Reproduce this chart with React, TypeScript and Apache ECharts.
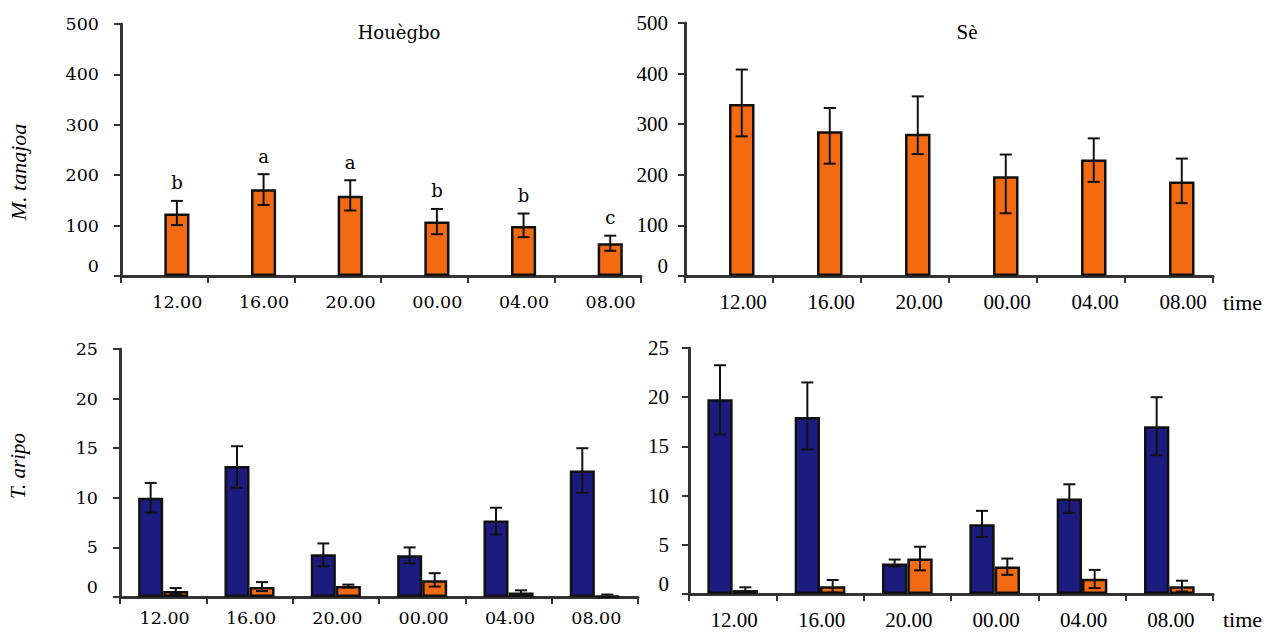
import React, { useEffect, useRef } from "react";
import * as echarts from "echarts";

// categories
const times = ["12.00", "16.00", "20.00", "00.00", "04.00", "08.00"];

// Houègbo – M. tanajoa
const hoMtMean = [124, 172, 159, 108, 99, 65];
const hoMtLow = [101, 141, 130, 83, 77, 50];
const hoMtHigh = [149, 202, 190, 133, 124, 80];
const hoMtLetters = ["b", "a", "a", "b", "b", "c"];

// Sè – M. tanajoa
const seMtMean = [340, 286, 281, 197, 230, 187];
const seMtLow = [276, 222, 241, 124, 186, 144];
const seMtHigh = [408, 332, 355, 240, 272, 232];

// Houègbo – T. aripo
const hoTaBlue = [10.0, 13.2, 4.3, 4.2, 7.7, 12.75];
const hoTaBlueLow = [8.5, 11.0, 3.1, 3.4, 6.3, 10.5];
const hoTaBlueHigh = [11.5, 15.2, 5.4, 5.0, 9.0, 15.0];
const hoTaOrange = [0.6, 1.0, 1.1, 1.7, 0.45, 0.1];
const hoTaOrangeLow = [0.3, 0.6, 0.95, 1.05, 0.25, 0.0];
const hoTaOrangeHigh = [0.9, 1.5, 1.25, 2.4, 0.67, 0.25];

// Sè – T. aripo
const seTaBlue = [19.8, 18.0, 3.1, 7.1, 9.7, 17.05];
const seTaBlueLow = [16.2, 14.7, 2.8, 5.8, 8.25, 14.1];
const seTaBlueHigh = [23.25, 21.5, 3.5, 8.45, 11.15, 20.0];
const seTaOrange = [0.4, 0.8, 3.6, 2.8, 1.55, 0.8];
const seTaOrangeLow = [0.15, 0.15, 2.4, 1.95, 0.6, 0.25];
const seTaOrangeHigh = [0.68, 1.42, 4.8, 3.6, 2.45, 1.35];

// tick values
const mtTicks = { min: 0, max: 500, interval: 100 };
const taTicks = { min: 0, max: 25, interval: 5 };

const ORANGE = "#F26A12";
const BLUE = "#1C1B80";
const INK = "#000";
const AXIS = "#333";
const FONT_L = "DejaVu Serif";
const FONT_R = "Liberation Serif";

const BAR_FRAC = 0.29;

function errorSeries(
  idx: number,
  lows: number[],
  highs: number[],
  slot: number,
  letters?: string[],
  letterFont?: string
) {
  return {
    type: "custom",
    xAxisIndex: idx,
    yAxisIndex: idx,
    z: 5,
    silent: true,
    encode: { x: 0, y: [1, 2] },
    data: lows.map((lo, i) => [i, lo, highs[i]]),
    renderItem: (params: any, api: any) => {
      const i = api.value(0);
      const lo = api.coord([i, api.value(1)]);
      const hi = api.coord([i, api.value(2)]);
      const band = api.size([1, 0])[0];
      const x = lo[0] + (slot * band * BAR_FRAC) / 2;
      const cap = 6;
      const st = { stroke: "#111", lineWidth: 2 };
      const children: any[] = [
        { type: "line", shape: { x1: x, y1: lo[1], x2: x, y2: hi[1] }, style: st },
        { type: "line", shape: { x1: x - cap, y1: hi[1], x2: x + cap, y2: hi[1] }, style: st },
        { type: "line", shape: { x1: x - cap, y1: lo[1], x2: x + cap, y2: lo[1] }, style: st },
      ];
      if (letters) {
        children.push({
          type: "text",
          style: {
            text: letters[i],
            x: x,
            y: hi[1] - 18,
            align: "center",
            verticalAlign: "middle",
            fontFamily: letterFont,
            fontSize: 18,
            fill: INK,
          },
        });
      }
      return { type: "group", children };
    },
  };
}

function xAxisFor(idx: number, font: string, size: number, margin: number, shift: number, withName: boolean, namePad: number) {
  return {
    type: "category",
    gridIndex: idx,
    data: times,
    boundaryGap: true,
    axisLine: { show: true, lineStyle: { color: AXIS, width: 3 } },
    axisTick: { show: true, length: 7, lineStyle: { color: AXIS, width: 2 } },
    axisLabel: {
      fontFamily: font,
      fontSize: size,
      color: INK,
      margin: margin,
      padding: [0, 0, 0, shift],
    },
    name: withName ? "time" : "",
    nameLocation: "end",
    nameGap: 10,
    nameTextStyle: {
      fontFamily: FONT_R,
      fontSize: 22,
      color: INK,
      verticalAlign: "top",
      padding: [namePad, 0, 0, 0],
    },
  };
}

function yAxisFor(idx: number, ticks: any, font: string, size: number, margin: number) {
  return {
    type: "value",
    gridIndex: idx,
    min: ticks.min,
    max: ticks.max,
    interval: ticks.interval,
    splitLine: { show: false },
    axisLine: { show: true, lineStyle: { color: AXIS, width: 3 } },
    axisTick: { show: true, length: 7, lineStyle: { color: AXIS, width: 2 } },
    axisLabel: {
      fontFamily: font,
      fontSize: size,
      color: INK,
      margin: margin,
      formatter: (v: number) => (v === 0 ? "{z|0}" : String(v)),
      rich: {
        z: { fontFamily: font, fontSize: size, color: INK, padding: [0, 0, 20, 0] },
      },
    },
  };
}

function barSeries(idx: number, data: (number | null)[], color: string) {
  return {
    type: "bar",
    xAxisIndex: idx,
    yAxisIndex: idx,
    data,
    barWidth: BAR_FRAC * 100 + "%",
    barGap: "0%",
    itemStyle: { color, borderColor: "#111", borderWidth: 2.5 },
    silent: true,
  };
}

export default function App() {
  const ref = useRef<HTMLDivElement>(null);
  useEffect(() => {
    if (!ref.current) return;
    const chart = echarts.init(ref.current, undefined, { renderer: "svg" });
    const empty = times.map(() => null);
    chart.setOption({
      animation: false,
      backgroundColor: "#fff",
      grid: [
        { left: 121, top: 24, width: 520, height: 252 },
        { left: 685, top: 23, width: 528, height: 253 },
        { left: 120, top: 349, width: 518, height: 248 },
        { left: 689, top: 348, width: 524, height: 246 },
      ],
      xAxis: [
        xAxisFor(0, FONT_L, 17.5, 17, 26, false, 0),
        xAxisFor(1, FONT_R, 21, 15, 28, true, 15),
        xAxisFor(2, FONT_L, 17.5, 12, 3, false, 0),
        xAxisFor(3, FONT_R, 21, 15, 3, true, 14),
      ],
      yAxis: [
        yAxisFor(0, mtTicks, FONT_L, 17.5, 22),
        yAxisFor(1, mtTicks, FONT_R, 21, 17),
        yAxisFor(2, taTicks, FONT_L, 17.5, 22),
        yAxisFor(3, taTicks, FONT_R, 21, 20),
      ],
      series: [
        barSeries(0, empty, BLUE),
        barSeries(0, hoMtMean, ORANGE),
        errorSeries(0, hoMtLow, hoMtHigh, 1, hoMtLetters, FONT_L),
        barSeries(1, empty, BLUE),
        barSeries(1, seMtMean, ORANGE),
        errorSeries(1, seMtLow, seMtHigh, 1),
        barSeries(2, hoTaBlue, BLUE),
        barSeries(2, hoTaOrange, ORANGE),
        errorSeries(2, hoTaBlueLow, hoTaBlueHigh, -1),
        errorSeries(2, hoTaOrangeLow, hoTaOrangeHigh, 1),
        barSeries(3, seTaBlue, BLUE),
        barSeries(3, seTaOrange, ORANGE),
        errorSeries(3, seTaBlueLow, seTaBlueHigh, -1),
        errorSeries(3, seTaOrangeLow, seTaOrangeHigh, 1),
      ],
      graphic: [
        {
          type: "text",
          x: 399,
          y: 32,
          style: { text: "Houègbo", align: "center", verticalAlign: "middle", fontFamily: FONT_L, fontSize: 18, fill: INK },
        },
        {
          type: "text",
          x: 967,
          y: 32,
          style: { text: "Sè", align: "center", verticalAlign: "middle", fontFamily: FONT_R, fontSize: 21, fill: INK },
        },
        {
          type: "text",
          x: 18,
          y: 172,
          rotation: Math.PI / 2,
          style: { text: "M. tanajoa", align: "center", verticalAlign: "middle", fontFamily: FONT_R, fontStyle: "italic", fontSize: 22, fill: INK },
        },
        {
          type: "text",
          x: 18,
          y: 466,
          rotation: Math.PI / 2,
          style: { text: "T. aripo", align: "center", verticalAlign: "middle", fontFamily: FONT_R, fontStyle: "italic", fontSize: 21, fill: INK },
        },
      ],
    });
    return () => chart.dispose();
  }, []);
  return (
    <div
      ref={ref}
      style={{ position: "fixed", left: 0, top: 0, width: 1272, height: 632, background: "#fff" }}
    />
  );
}
